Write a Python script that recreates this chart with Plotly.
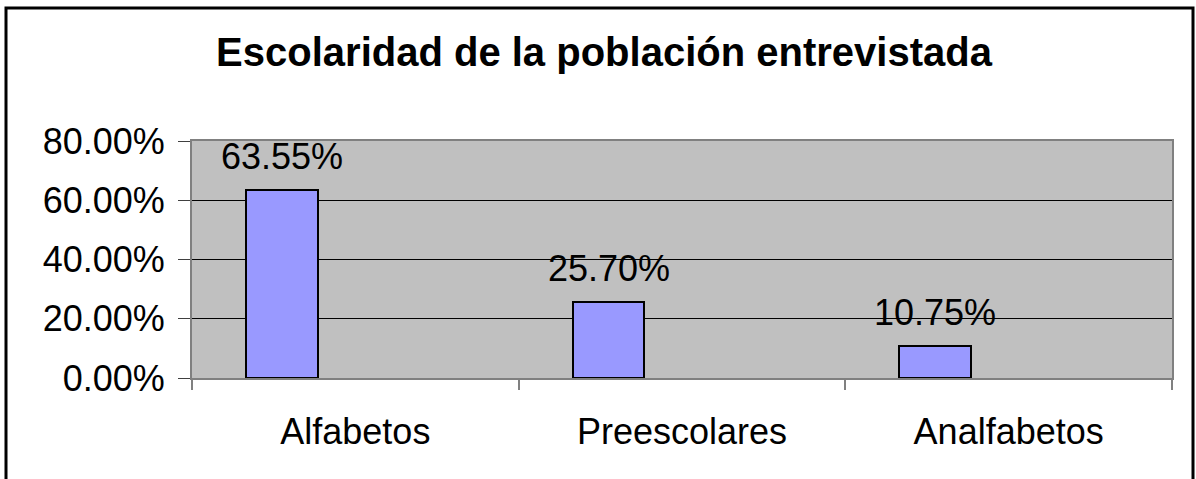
import plotly.graph_objects as go

categories = ["Alfabetos", "Preescolares", "Analfabetos"]
values = [0.6355, 0.2570, 0.1075]
labels = ["63.55%", "25.70%", "10.75%"]
y_ticks = [0, 0.2, 0.4, 0.6, 0.8]
title = "Escolaridad de la población entrevistada"

W, H = 1196, 479
ml, mr, mt, mb = 192, 24, 141, 101
pw, ph = W - ml - mr, H - mt - mb

bar_offset, bar_width = -0.335, 0.22
FONT = "Liberation Sans, Arial, sans-serif"
TXT = 36

fig = go.Figure()
fig.add_trace(go.Bar(
    x=categories, y=values,
    offset=bar_offset, width=bar_width,
    marker=dict(color="#9999FF", line=dict(color="black", width=2)),
    hoverinfo="skip",
))

for i, (v, t) in enumerate(zip(values, labels)):
    fig.add_annotation(
        x=i + bar_offset + bar_width / 2, y=v, text=t,
        showarrow=False, yanchor="bottom", yshift=11,
        font=dict(family=FONT, size=TXT, color="black"),
    )

def px_x(p):
    return (p - ml) / pw

def px_y(p):
    return (H - mb - p) / ph

fig.add_shape(type="rect", xref="paper", yref="paper",
              x0=px_x(6), x1=px_x(1193), y0=px_y(490), y1=px_y(8),
              line=dict(color="black", width=3), fillcolor="rgba(0,0,0,0)",
              layer="above")

fig.update_layout(
    width=W, height=H,
    margin=dict(l=ml, r=mr, t=mt, b=mb),
    paper_bgcolor="white", plot_bgcolor="#C0C0C0",
    showlegend=False,
    title=dict(text="<b>" + title + "</b>", x=604 / W, xanchor="center",
               y=1 - 52 / H, yanchor="middle", xref="container", yref="container",
               font=dict(family=FONT, size=40, color="black")),
    font=dict(family=FONT, size=TXT, color="black"),
    bargap=0,
)
fig.update_xaxes(
    type="category", tickson="boundaries", ticks="outside", ticklen=10,
    tickcolor="#808080", tickwidth=2, ticklabelstandoff=21,
    showline=True, linecolor="#808080", linewidth=2, mirror=True,
    showgrid=False, tickfont=dict(size=TXT, color="black"),
)
fig.update_yaxes(
    range=[0, 0.8], tickvals=y_ticks, tickformat=".2%",
    ticks="outside", ticklen=12, tickcolor="#404040", tickwidth=1,
    ticklabelstandoff=6,
    showline=True, linecolor="#808080", linewidth=2, mirror=True,
    showgrid=True, gridcolor="black", gridwidth=1,
    zeroline=False, tickfont=dict(size=TXT, color="black"),
)

fig.write_html("out.html", config={"displayModeBar": False},
               post_script="document.body.style.margin='0px';document.body.style.overflow='hidden';")
